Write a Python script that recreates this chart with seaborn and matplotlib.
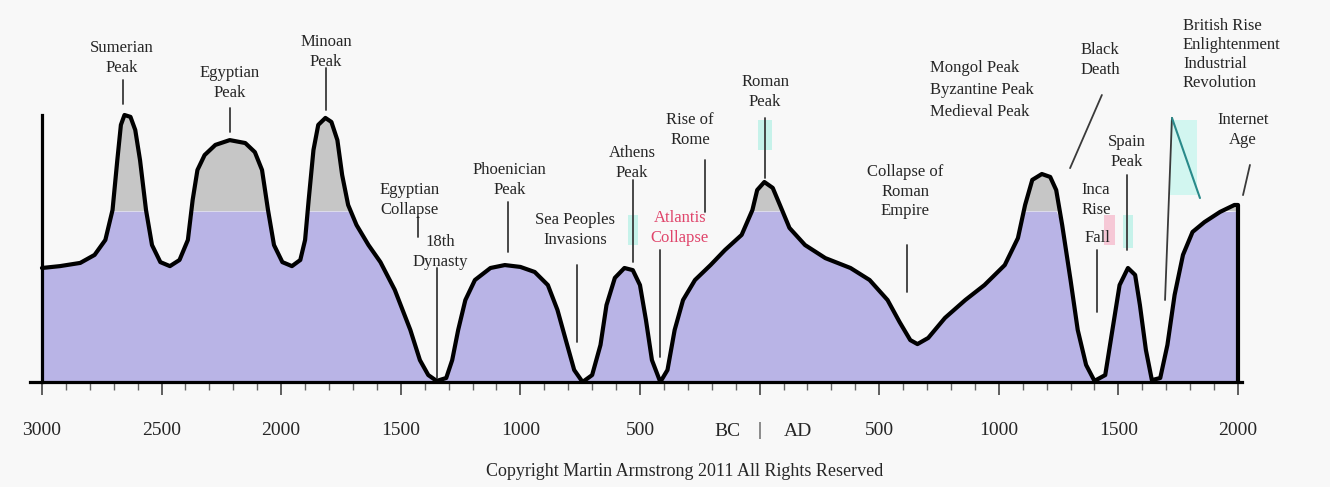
import numpy as np
import pandas as pd
import matplotlib
matplotlib.use('Agg')
import matplotlib.pyplot as plt
import seaborn as sns
from matplotlib.patches import Rectangle
from matplotlib.ticker import MultipleLocator

# 年份 (负数 = 公元前) 与文明指数
years = [-3000, -2925, -2840, -2780, -2735, -2705, -2685, -2670, -2655, -2630,
         -2610, -2590, -2565, -2540, -2505, -2465, -2425, -2390, -2370, -2350,
         -2320, -2275, -2215, -2150, -2110, -2080, -2055, -2030, -1995, -1955,
         -1920, -1900, -1885, -1865, -1845, -1815, -1790, -1765, -1745, -1720,
         -1685, -1635, -1585, -1525, -1460, -1420, -1385, -1350, -1310, -1285,
         -1260, -1230, -1190, -1125, -1065, -1000, -940, -885, -845, -810,
         -775, -740, -700, -665, -640, -605, -565, -530, -500, -475,
         -450, -415, -385, -355, -320, -270, -205, -145, -75, -30,
         -10, 20, 55, 85, 125, 190, 275, 380, 460, 535,
         585, 630, 660, 705, 775, 860, 940, 1025, 1080, 1110,
         1140, 1180, 1215, 1240, 1265, 1300, 1330, 1365, 1400, 1445,
         1475, 1505, 1540, 1570, 1590, 1615, 1640, 1675, 1705, 1735,
         1770, 1810, 1860, 1925, 1985, 2000, 2000]
index = [42.7, 43.4, 44.6, 47.6, 53.2, 64.4, 83.1, 96.3, 100.0, 99.3,
         94.4, 83.1, 64.4, 51.3, 44.9, 43.4, 45.7, 53.2, 68.2, 79.4,
         85.0, 88.8, 90.6, 89.5, 86.1, 79.4, 64.4, 51.3, 44.9, 43.4,
         45.7, 53.2, 68.2, 86.9, 96.3, 98.9, 97.4, 90.6, 77.5, 66.3,
         58.8, 51.3, 44.9, 34.5, 19.5, 8.2, 2.6, 0.4, 1.5, 8.2,
         19.5, 30.7, 38.2, 42.7, 43.8, 43.1, 41.2, 36.3, 27.0, 15.7,
         4.5, 0.0, 2.6, 13.9, 28.8, 39.0, 42.7, 41.9, 36.3, 23.2,
         8.2, 0.0, 4.5, 19.5, 30.7, 38.2, 43.8, 49.4, 55.1, 64.4,
         71.9, 74.9, 72.7, 66.3, 57.7, 51.3, 46.4, 42.7, 38.2, 30.7,
         22.5, 15.7, 14.2, 16.5, 24.0, 30.7, 36.3, 43.8, 53.9, 66.3,
         75.7, 77.9, 76.8, 71.9, 58.8, 38.2, 19.5, 6.4, 0.4, 2.6,
         19.5, 36.3, 42.7, 40.1, 28.8, 12.0, 0.7, 1.5, 13.9, 32.6,
         47.6, 56.2, 59.9, 63.7, 66.3, 66.3, 0.0]

tick_years = [-3000, -2500, -2000, -1500, -1000, -500, 0, 500, 1000, 1500, 2000]
tick_labels = ['3000', '2500', '2000', '1500', '1000', '500', '|', '500', '1000', '1500', '2000']

# 注释: 文字, 文字位置, 指示线
events = [
    ('Sumerian\nPeak', -2666, 121.3, [(-2661, 113.1, -2661, 104.1)]),
    ('Egyptian\nPeak', -2214, 112.0, [(-2214, 102.6, -2214, 93.6)]),
    ('Minoan\nPeak', -1813, 123.6, [(-1813, 117.6, -1813, 101.9)]),
    ('Egyptian\nCollapse', -1462, 68.2, [(-1430, 61.8, -1430, 54.3)]),
    ('18th\nDynasty', -1336, 48.7, [(-1349, 42.7, -1349, 1.5)]),
    ('Phoenician\nPeak', -1044, 75.7, [(-1052, 67.4, -1052, 48.7)]),
    ('Sea Peoples\nInvasions', -772, 56.9, [(-764, 43.8, -764, 15.0)]),
    ('Athens\nPeak', -533, 82.0, [(-529, 75.7, -529, 44.9)]),
    ('Rise of\nRome', -291, 94.4, [(-228, 83.1, -228, 63.7)]),
    ('Roman\nPeak', 23, 108.6, [(23, 98.9, 23, 76.4)]),
    ('Collapse of\nRoman\nEmpire', 608, 71.2, [(616, 51.3, 616, 33.7)]),
    ('Black\nDeath', 1423, 120.6, [(1431, 107.5, 1298, 80.1)]),
    ('Spain\nPeak', 1536, 86.1, [(1536, 77.5, 1536, 49.4)]),
    ('Inca\nRise', 1406, 68.2, []),
    ('Fall', 1411, 53.9, [(1411, 49.4, 1411, 26.2)]),
    ('Internet\nAge', 2021, 94.4, [(2050, 81.3, 2021, 70.0)]),
]

# 高亮方块: x0, x1, y0, y1, 颜色
highlights = [
    (-549, -507, 51.3, 62.5, '#c6f2ea'),
    (-7, 52, 86.9, 98.0, '#c6f2ea'),
    (1519, 1561, 50.2, 62.5, '#c6f2ea'),
    (1440, 1486, 51.3, 62.5, '#f6c8d6'),
    (1716, 1830, 70.0, 98.0, '#d2f6f0'),
]

bg = '#f8f8f8'
lavender = '#b9b4e6'
grey = '#c6c6c6'
ink = '#262626'

sns.set_style('white')
plt.rcParams['font.family'] = ['Liberation Serif', 'DejaVu Serif']

fig = plt.figure(figsize=(13.3, 4.87), dpi=100, facecolor=bg)
ax = fig.add_axes([30 / 1330, 1 - 382 / 487, 1230 / 1330, 377 / 487])
ax.set_facecolor(bg)

df = pd.DataFrame({'year': years, 'index': index})
level = 64
ax.fill_between(df['year'], 0, np.minimum(df['index'], level), color=lavender, lw=0)
ax.fill_between(df['year'], level, df['index'], where=df['index'] > level,
                interpolate=True, color=grey, lw=0)

for x0, x1, y0, y1, c in highlights:
    ax.add_patch(Rectangle((x0, y0), x1 - x0, y1 - y0, color=c, lw=0, zorder=1))

sns.lineplot(data=df, x='year', y='index', sort=False, estimator=None,
             color='black', lw=3.0, ax=ax, zorder=4,
             solid_joinstyle='round', solid_capstyle='round')

for text, tx, ty, lines in events:
    ax.text(tx, ty, text, ha='center', va='center', fontsize=12,
            linespacing=1.3, color=ink, zorder=5)
    for x0, y0, x1, y1 in lines:
        ax.plot([x0, x1], [y0, y1], color='#3a3a3a', lw=1.3, zorder=3)

ax.text(-333, 57.7, 'Atlantis\nCollapse', ha='center', va='center', fontsize=12,
        linespacing=1.3, color='#e0456b', zorder=5)
ax.plot([-416, -416], [49.4, 9.4], color='#3a3a3a', lw=1.3, zorder=3)

ax.text(712, 109.4, 'Mongol Peak\nByzantine Peak\nMedieval Peak', ha='left', va='center',
        fontsize=12, linespacing=1.5, color=ink, zorder=5)
ax.text(1770, 122.5, 'British Rise\nEnlightenment\nIndustrial\nRevolution', ha='left',
        va='center', fontsize=12, linespacing=1.25, color=ink, zorder=5)
ax.plot([1724, 1695], [98.9, 30.7], color='#3a3a3a', lw=1.3, zorder=3)
ax.plot([1724, 1841], [98.9, 68.9], color='#2a8a8a', lw=1.5, zorder=3)

ax.set_xlim(-3050, 2092)
ax.set_ylim(0, 141.2)
ax.set_xlabel('')
ax.set_ylabel('')
ax.set_yticks([])

for side in ['top', 'right']:
    ax.spines[side].set_visible(False)
ax.spines['left'].set_position(('data', -3000))
ax.spines['left'].set_bounds(0, 100)
ax.spines['bottom'].set_bounds(-3050, 2015)
for side in ['left', 'bottom']:
    ax.spines[side].set_linewidth(2.3)
    ax.spines[side].set_color('black')
    ax.spines[side].set_zorder(6)

ax.set_xticks(tick_years, tick_labels)
ax.xaxis.set_minor_locator(MultipleLocator(100))
ax.tick_params(axis='x', which='major', direction='out', length=9, width=1.2,
               color='#444444', pad=20, labelsize=14, labelcolor=ink, bottom=True)
ax.tick_params(axis='x', which='minor', direction='out', length=6, width=1.0,
               color='#666666', bottom=True)

ax.text(-134, -50 / 377 * 141.2, 'BC', ha='center', va='center', fontsize=14,
        color=ink, clip_on=False)
ax.text(160, -50 / 377 * 141.2, 'AD', ha='center', va='center', fontsize=14,
        color=ink, clip_on=False)

fig.text(685 / 1330, 1 - 472 / 487, 'Copyright Martin Armstrong 2011 All Rights Reserved',
         ha='center', va='center', fontsize=13, color=ink)

fig.savefig('out.png', dpi=100, facecolor=bg)
